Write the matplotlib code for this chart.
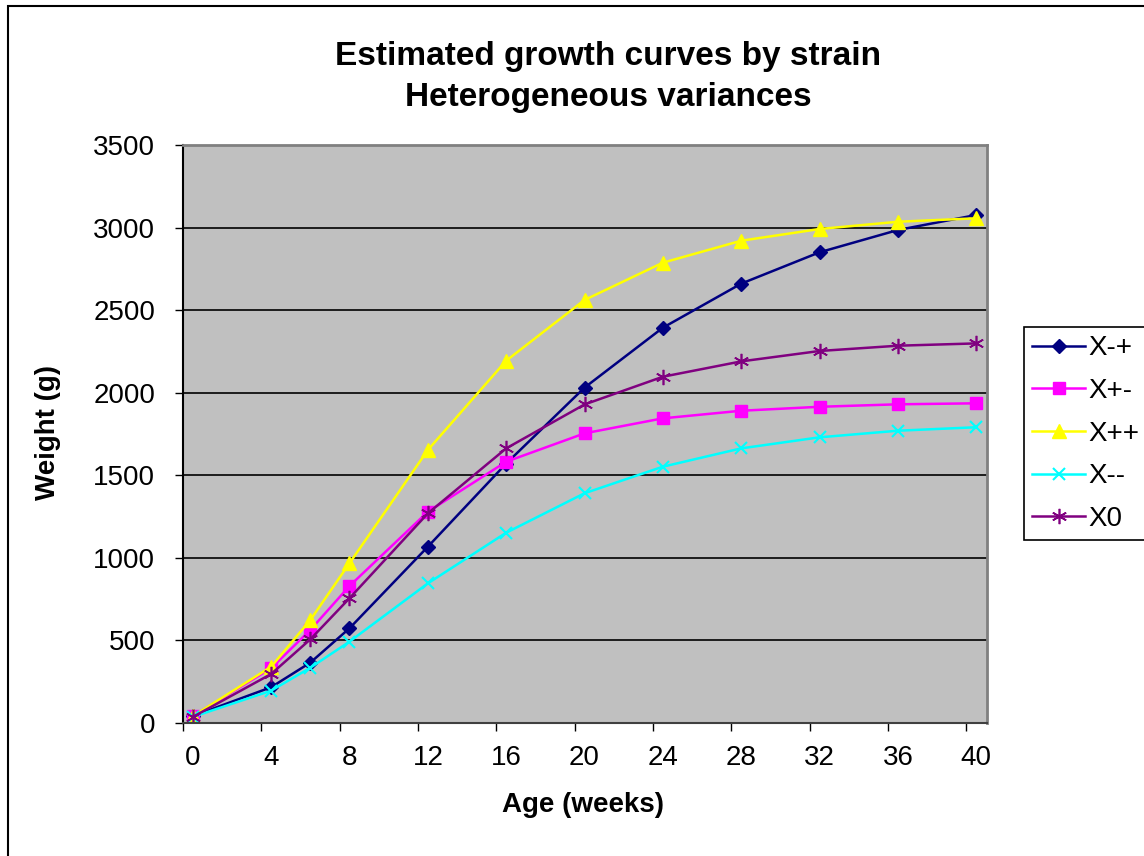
import matplotlib
matplotlib.use("Agg")
import matplotlib.pyplot as plt
from matplotlib.patches import Rectangle
import numpy as np

plt.rcParams['font.family'] = ['Liberation Sans', 'DejaVu Sans']

ages = [0, 4, 6, 8, 12, 16, 20, 24, 28, 32, 36, 40]
x_mp = [40, 215, 364, 572, 1066, 1570, 2030, 2393, 2660, 2850, 2985, 3076]
x_pm = [40, 330, 562, 828, 1278, 1581, 1753, 1844, 1890, 1914, 1929, 1935]
x_pp = [40, 339, 622, 966, 1652, 2193, 2561, 2787, 2920, 2991, 3035, 3056]
x_mm = [35, 194, 333, 491, 844, 1151, 1390, 1551, 1662, 1729, 1769, 1790]
x_0 = [35, 295, 505, 754, 1268, 1662, 1928, 2096, 2189, 2252, 2284, 2298]
series_names = ["X-+", "X+-", "X++", "X--", "X0"]
xtick_vals = [0, 4, 8, 12, 16, 20, 24, 28, 32, 36, 40]
ytick_vals = [0, 500, 1000, 1500, 2000, 2500, 3000, 3500]

fig = plt.figure(figsize=(11.44, 8.56), dpi=100)
fig.patches.append(Rectangle((8/1144, -0.05), 1.2, 1.05 - 6/856, transform=fig.transFigure,
                             fill=False, edgecolor='black', linewidth=1.5, zorder=0))

ax = fig.add_axes([183/1144, 1 - 722.7/856, (987-183)/1144, (722.7-145)/856])
ax.set_facecolor('#C0C0C0')

styles = [
    dict(color='#000080', marker='D', markersize=7),
    dict(color='#FF00FF', marker='s', markersize=9),
    dict(color='#FFFF00', marker='^', markersize=10),
    dict(color='#00FFFF', marker='x', markersize=9, markeredgewidth=1.5),
    dict(color='#800080', marker=(6, 2, 0), markersize=11, markeredgewidth=1.2),
]
data = [x_mp, x_pm, x_pp, x_mm, x_0]
for name, vals, st in zip(series_names, data, styles):
    ax.plot(ages, vals, label=name, linewidth=1.8, **st)

ax.set_xlim(-0.5, 40.55)
ax.set_ylim(0, 3500)
ax.set_yticks(ytick_vals)
ax.set_yticklabels([str(v) for v in ytick_vals])
ax.yaxis.grid(True, color='black', linewidth=1.2)
ax.set_axisbelow(True)

ax.set_xticks(xtick_vals)
ax.set_xticklabels([str(v) for v in xtick_vals])
ax.set_xticks([v - 0.5 for v in xtick_vals], minor=True)
ax.tick_params(axis='x', which='major', length=0, pad=16, labelsize=20)
ax.tick_params(axis='x', which='minor', length=6, width=1, direction='out', color='black')
ax.tick_params(axis='y', which='major', length=6, width=1, direction='out', pad=14, labelsize=20)

for s in ['top', 'right']:
    ax.spines[s].set_color('#808080')
    ax.spines[s].set_linewidth(2)
ax.spines['left'].set_color('black')
ax.spines['left'].set_linewidth(1.5)
ax.spines['bottom'].set_color('#404040')
ax.spines['bottom'].set_linewidth(1.5)

fig.text(608/1144, 1 - 77/856, "Estimated growth curves by strain\nHeterogeneous variances",
         ha='center', va='center', fontsize=24, fontweight='bold', linespacing=1.45)
fig.text(48/1144, 1 - 433/856, "Weight (g)", rotation=90, ha='center', va='center',
         fontsize=20, fontweight='bold')
fig.text(583/1144, 1 - 805/856, "Age (weeks)", ha='center', va='center',
         fontsize=20, fontweight='bold')

leg = fig.legend(loc='upper left', bbox_to_anchor=(1024/1144, 1 - 327/856),
                 fontsize=20, frameon=True, fancybox=False, edgecolor='black',
                 framealpha=1, borderpad=0.3, handlelength=1.9, handletextpad=0.1,
                 labelspacing=0.6, borderaxespad=0)
leg.get_frame().set_linewidth(1.2)

fig.savefig("out.png", dpi=100)
